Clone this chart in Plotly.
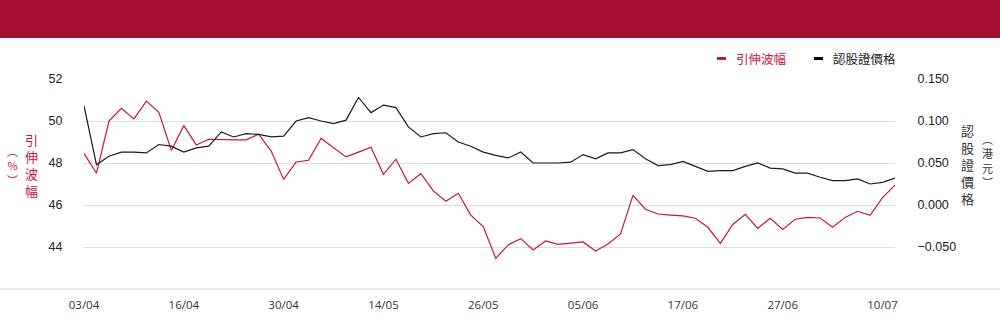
import plotly.graph_objects as go

dates = ["03/04","07/04","08/04","09/04","10/04","11/04","14/04","15/04","16/04","17/04",
         "22/04","23/04","24/04","25/04","28/04","29/04","30/04","02/05","06/05","07/05",
         "08/05","09/05","12/05","13/05","14/05","15/05","16/05","19/05","20/05","21/05",
         "22/05","23/05","26/05","27/05","28/05","29/05","30/05","02/06","03/06","04/06",
         "05/06","06/06","09/06","10/06","11/06","12/06","13/06","16/06","17/06","18/06",
         "19/06","20/06","23/06","24/06","25/06","26/06","27/06","30/06","02/07","03/07",
         "04/07","07/07","08/07","09/07","10/07","11/07"]

volatility = [48.46,47.51,50.00,50.60,50.10,50.95,50.41,48.60,49.78,48.86,
              49.13,49.10,49.10,49.10,49.37,48.57,47.22,48.05,48.13,49.17,
              48.73,48.29,48.52,48.75,47.46,48.18,47.03,47.49,46.67,46.18,
              46.56,45.52,44.97,43.46,44.10,44.40,43.86,44.29,44.13,44.17,
              44.24,43.81,44.14,44.62,46.46,45.80,45.57,45.52,45.48,45.37,
              44.94,44.17,45.07,45.56,44.89,45.37,44.84,45.32,45.41,45.38,
              44.94,45.41,45.70,45.51,46.35,46.95]

warrant_price = [0.118,0.048,0.058,0.063,0.063,0.062,0.072,0.070,0.063,0.068,
                 0.070,0.087,0.081,0.085,0.084,0.081,0.082,0.100,0.104,0.100,
                 0.097,0.101,0.128,0.110,0.119,0.116,0.093,0.081,0.085,0.086,
                 0.075,0.070,0.063,0.059,0.056,0.063,0.050,0.050,0.050,0.051,
                 0.060,0.055,0.062,0.062,0.066,0.055,0.047,0.048,0.052,0.046,
                 0.040,0.041,0.041,0.046,0.050,0.044,0.043,0.038,0.038,0.033,
                 0.029,0.029,0.031,0.025,0.027,0.032]

left_ticks = [44, 46, 48, 50, 52]
right_ticks = [-0.05, 0.0, 0.05, 0.10, 0.15]
x_tick_labels = dates[::8]

series_names = ["引伸波幅", "認股證價格"]
left_title = "引伸波幅"
left_unit = ["︵", "%", "︶"]
right_title = "認股證價格"
right_unit = ["︵", "港", "元", "︶"]

RED = "#C2173F"
BLACK = "#1b1b1b"
HEADER = "#A30F33"
W, H = 1000, 324
L, R, T, B = 84, 895, 79, 289


def px(X):
    return (X - L) / (R - L)


def py(Y):
    return (B - Y) / (B - T)


fig = go.Figure()
fig.add_trace(go.Scatter(x=dates, y=warrant_price, name=series_names[1], mode="lines",
                         line=dict(color=BLACK, width=1.2), yaxis="y2", showlegend=False))
fig.add_trace(go.Scatter(x=dates, y=volatility, name=series_names[0], mode="lines",
                         line=dict(color=RED, width=1.2), yaxis="y", showlegend=False))

shapes = [
    dict(type="rect", xref="paper", yref="paper", x0=px(0), x1=px(W), y0=py(38), y1=py(0),
         fillcolor=HEADER, line=dict(width=0), layer="below"),
    dict(type="line", xref="paper", yref="paper", x0=px(0), x1=px(W), y0=py(289), y1=py(289),
         line=dict(color="#cccccc", width=1)),
    dict(type="rect", xref="paper", yref="paper", x0=px(717), x1=px(726), y0=py(60), y1=py(57),
         fillcolor=RED, line=dict(width=0)),
    dict(type="rect", xref="paper", yref="paper", x0=px(814), x1=px(823), y0=py(60), y1=py(57),
         fillcolor="#000000", line=dict(width=0)),
]

cjk = "Noto Sans CJK TC"


def ann(text, X, Y, size, color, xanchor="center"):
    return dict(text=text, x=px(X), y=py(Y), xref="paper", yref="paper",
                xanchor=xanchor, yanchor="middle", showarrow=False,
                font=dict(family=cjk, size=size, color=color))


annotations = [
    ann(series_names[0], 734, 58.5, 12.5, RED, "left"),
    ann(series_names[1], 831, 58.5, 12.5, "#222222", "left"),
    ann("<br>".join(left_title), 31, 165, 13, RED),
    ann("<br>".join(left_unit), 12, 165, 11, RED),
    ann("<br>".join(right_title), 968, 164, 13, "#333333"),
    ann("<br>".join(right_unit), 987, 160, 11, "#333333"),
]

fig.update_layout(
    width=W, height=H,
    margin=dict(l=L, r=W - R, t=T, b=H - B, pad=0),
    paper_bgcolor="white", plot_bgcolor="white",
    showlegend=False,
    shapes=shapes, annotations=annotations,
    xaxis=dict(type="category", range=[0, len(dates) - 1], showgrid=False, zeroline=False,
               showline=False, tickmode="array", tickvals=x_tick_labels, ticktext=x_tick_labels,
               ticks="outside", ticklen=5, tickcolor="rgba(0,0,0,0)",
               tickfont=dict(family="Open Sans", size=11.5, color="#333333")),
    yaxis=dict(range=[42, 52], tickmode="array", tickvals=left_ticks,
               showgrid=True, gridcolor="#dedede", gridwidth=1, zeroline=False, showline=False,
               ticks="outside", ticklen=18, tickcolor="rgba(0,0,0,0)",
               tickfont=dict(family="Liberation Sans", size=12.5, color="#222222")),
    yaxis2=dict(range=[-0.1, 0.15], overlaying="y", side="right", tickmode="array",
                tickvals=right_ticks, tickformat=".3f", showgrid=False, zeroline=False,
                showline=False, ticks="outside", ticklen=19, tickcolor="rgba(0,0,0,0)",
                tickfont=dict(family="Liberation Sans", size=12.5, color="#222222")),
)

fig.write_html("out.html", config={"displayModeBar": False},
               post_script="document.body.style.margin='0';document.body.style.padding='0';")
